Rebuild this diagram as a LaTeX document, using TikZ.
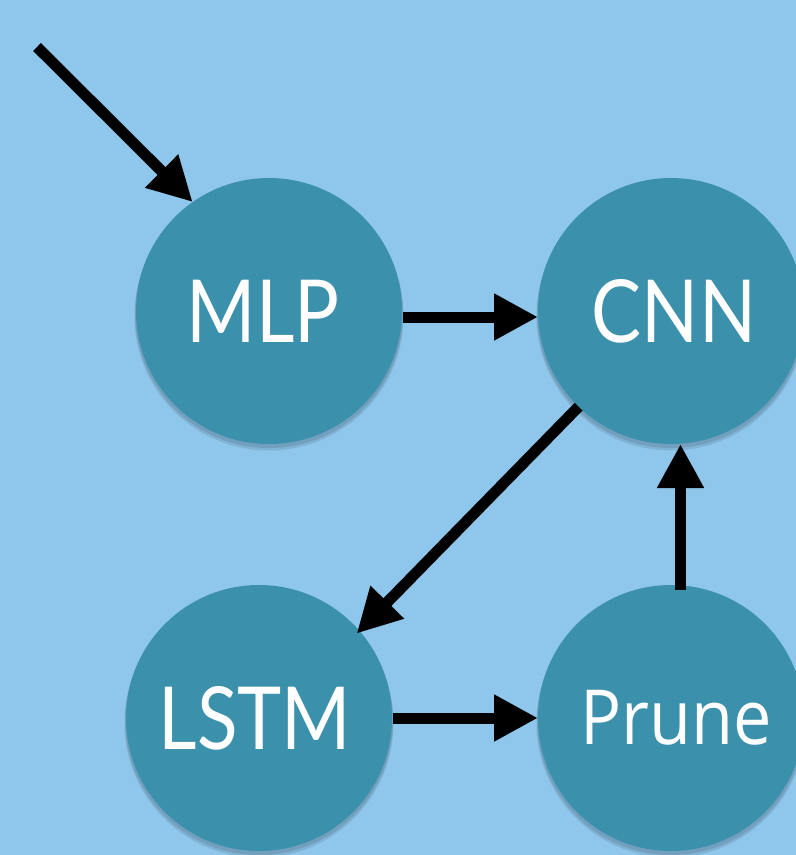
\documentclass[tikz,border=0pt]{standalone}
\usepackage{fontspec}
\setmainfont{Lato}
\newfontfamily\prunefont{Open Sans}
\usetikzlibrary{arrows.meta,calc}
\definecolor{bgblue}{RGB}{143,199,236}
\definecolor{discteal}{RGB}{59,144,172}
\newcommand{\narrow}[1]{\scalebox{0.86}[1]{#1}}
\tikzset{
  disc/.style={circle,fill=discteal,minimum size=266pt,inner sep=0pt,outer sep=0pt},
  disclabel/.style={text=white,font=\fontsize{87}{87}\selectfont,inner sep=0pt},
  flow/.style={line width=11pt,line cap=butt,-{Triangle[length=44pt,width=44pt]}},
  discshadow/.style={fill=black,opacity=0.10}
}
\begin{document}
\begin{tikzpicture}[x=1pt,y=-1pt]
\useasboundingbox (0,0) rectangle (796,855);
\clip (0,0) rectangle (796,855);
\fill[bgblue] (0,0) rectangle (796,855);
% soft shadows
\foreach \cx/\cy in {269/311, 671/311, 259/718, 671/718}{
  \fill[discshadow] (\cx,\cy+3) circle (134pt);
  \fill[discshadow] (\cx,\cy+5) circle (134.5pt);
}
\node[disc] (mlp) at (269,311) {};
\node[disc] (cnn) at (671,311) {};
\node[disc] (lstm) at (259,718) {};
\node[disc] (prune) at (671,718) {};
\node[disclabel] (mlpt) at ([xshift=-6pt]mlp.center) {\narrow{MLP}};
\node[disclabel] (cnnt) at ([xshift=3pt]cnn.center) {\narrow{CNN}};
\node[disclabel] (lstmt) at ([xshift=-4pt]lstm.center) {\narrow{LSTM}};
\node[disclabel] (prunet) at ([xshift=5pt]prune.center) {\prunefont\fontsize{76}{76}\selectfont\scalebox{0.9}[1]{Prune}};
\coordinate (start) at (37,47);
\draw[flow] (start) -- (mlp.125);
\draw[flow] ([yshift=-6pt,xshift=1pt]mlp.east) -- ([yshift=-6pt]cnn.west);
\draw[flow,shorten >=-4pt] (cnn.226.5) -- (lstm.41.5);
\draw[flow] ([xshift=1pt]lstm.east) -- (prune.west);
\draw[flow] ([xshift=9.5pt,yshift=-5pt]prune.north) -- ([xshift=9.5pt]cnn.south);
\end{tikzpicture}
\end{document}
